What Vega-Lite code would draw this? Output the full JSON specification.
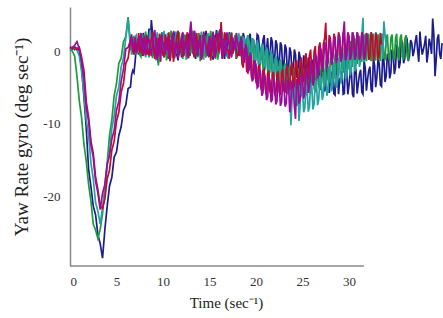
{
"$schema": "https://vega.github.io/schema/vega-lite/v6.json",
"width": 372, "height": 259,
"autosize": "none",
"padding": {"left": 70, "top": 7, "right": 1, "bottom": 52},
"background": "white",
"config": {"view": {"stroke": null}, "font": "Liberation Serif"},
"data": {"values": [
{"t":0,"b":0.4,"g":0.3,"c":0.5,"r":0.6,"p":0.7},
{"t":0.25,"b":0.6,"g":0.1,"c":0.3,"r":0.4,"p":0.5},
{"t":0.5,"b":0.3,"g":-0.6,"c":0.6,"r":0.7,"p":0.9},
{"t":0.75,"b":0.5,"g":-3.4,"c":0.2,"r":0.3,"p":1.4},
{"t":1,"b":0.2,"g":-6.8,"c":-0.6,"r":0.6,"p":0.4},
{"t":1.25,"b":-2.2,"g":-9.2,"c":-2.8,"r":-0.8,"p":-1.3},
{"t":1.5,"b":-6.3,"g":-12.8,"c":-5.7,"r":-2.6,"p":-3.7},
{"t":1.75,"b":-10.6,"g":-15.2,"c":-9.4,"r":-6.9,"p":-7.8},
{"t":2,"b":-16.3,"g":-18.4,"c":-11.6,"r":-9.1,"p":-9.6},
{"t":2.25,"b":-18.7,"g":-20.7,"c":-15.4,"r":-12.4,"p":-12.9},
{"t":2.5,"b":-21.4,"g":-23.9,"c":-17.6,"r":-14.1,"p":-14.6},
{"t":2.75,"b":-22.6,"g":-24.7,"c":-20.9,"r":-17.4,"p":-17.9},
{"t":3,"b":-25.4,"g":-25.9,"c":-22.1,"r":-19.1,"p":-19.6},
{"t":3.25,"b":-26.6,"g":-24.6,"c":-23.9,"r":-21.4,"p":-21.9},
{"t":3.5,"b":-28.6,"g":-22.4,"c":-21.6,"r":-21.7,"p":-19.6},
{"t":3.75,"b":-24.6,"g":-18.6,"c":-19.4,"r":-20.4,"p":-18.4},
{"t":4,"b":-21.4,"g":-15.4,"c":-15.6,"r":-17.6,"p":-15.6},
{"t":4.25,"b":-18.6,"g":-11.6,"c":-13.9,"r":-16.4,"p":-14.4},
{"t":4.5,"b":-17.4,"g":-9.4,"c":-10.6,"r":-13.6,"p":-12.1},
{"t":4.75,"b":-14.6,"g":-6.1,"c":-8.9,"r":-12.4,"p":-10.9},
{"t":5,"b":-13.9,"g":-4.4,"c":-6.1,"r":-9.6,"p":-8.1},
{"t":5.25,"b":-11.6,"g":-1.6,"c":-4.9,"r":-8.4,"p":-6.9},
{"t":5.5,"b":-10.4,"g":-0.9,"c":-2.1,"r":-5.6,"p":-4.1},
{"t":5.75,"b":-8.1,"g":1.4,"c":-0.9,"r":-4.4,"p":-2.4},
{"t":6,"b":-7.4,"g":2.1,"c":1.9,"r":-1.6,"p":0.4},
{"t":6.25,"b":-5.1,"g":4.8,"c":4.5,"r":-0.9,"p":0.6},
{"t":6.5,"b":-4.9,"g":0.2,"c":1.4,"r":1.4,"p":1.6},
{"t":6.75,"b":-2.6,"g":1.6,"c":0.1,"r":0.2,"p":0.1},
{"t":7,"b":-1.4,"g":-0.4,"c":2.1,"r":1.8,"p":2.0},
{"t":7.25,"b":0.9,"g":1.9,"c":-0.3,"r":0.1,"p":0.3},
{"t":7.5,"b":2.1,"g":-0.4,"c":1.6,"r":-0.2,"p":1.8},
{"t":7.75,"b":-0.6,"g":2.3,"c":-0.1,"r":1.9,"p":-0.3},
{"t":8,"b":1.7,"g":0.2,"c":2.4,"r":0.1,"p":2.2},
{"t":8.25,"b":-0.3,"g":1.8,"c":0.3,"r":2.3,"p":0.0},
{"t":8.5,"b":3.2,"g":-0.8,"c":1.9,"r":-0.4,"p":1.6},
{"t":8.75,"b":4.4,"g":1.6,"c":-0.5,"r":1.7,"p":-0.6},
{"t":9,"b":-0.4,"g":0.1,"c":2.2,"r":0.3,"p":2.4},
{"t":9.25,"b":1.9,"g":2.4,"c":-1.2,"r":2.0,"p":0.2},
{"t":9.5,"b":-1.5,"g":-1.9,"c":1.3,"r":-0.7,"p":1.9},
{"t":9.75,"b":1.4,"g":1.2,"c":-0.4,"r":1.5,"p":-1.4},
{"t":10,"b":-0.2,"g":-0.6,"c":2.0,"r":-0.3,"p":1.1},
{"t":10.25,"b":2.2,"g":2.1,"c":0.4,"r":2.4,"p":-0.4},
{"t":10.5,"b":-0.9,"g":0.0,"c":2.6,"r":0.2,"p":2.0},
{"t":10.75,"b":1.6,"g":2.2,"c":-0.2,"r":-1.3,"p":0.3},
{"t":11,"b":0.1,"g":-0.7,"c":1.5,"r":1.8,"p":2.3},
{"t":11.25,"b":2.4,"g":1.4,"c":-0.9,"r":-0.1,"p":-0.8},
{"t":11.5,"b":-0.5,"g":-0.3,"c":2.1,"r":2.2,"p":1.5},
{"t":11.75,"b":1.9,"g":2.7,"c":0.0,"r":-0.4,"p":-0.2},
{"t":12,"b":-0.8,"g":0.4,"c":1.8,"r":1.6,"p":2.1},
{"t":12.25,"b":1.3,"g":1.9,"c":-0.6,"r":0.0,"p":-0.5},
{"t":12.5,"b":-0.1,"g":-1.1,"c":2.3,"r":2.0,"p":1.7},
{"t":12.75,"b":2.5,"g":1.7,"c":-0.1,"r":-0.9,"p":0.1},
{"t":13,"b":0.3,"g":-0.2,"c":1.6,"r":3.9,"p":4.2},
{"t":13.25,"b":1.8,"g":2.0,"c":0.4,"r":-0.2,"p":-0.3},
{"t":13.5,"b":-1.0,"g":0.2,"c":2.5,"r":1.7,"p":1.8},
{"t":13.75,"b":1.6,"g":1.8,"c":-0.8,"r":0.1,"p":-0.6},
{"t":14,"b":-0.2,"g":-1.3,"c":1.4,"r":2.3,"p":2.0},
{"t":14.25,"b":2.3,"g":1.1,"c":0.1,"r":-0.5,"p":0.2},
{"t":14.5,"b":0.0,"g":-0.4,"c":2.2,"r":1.6,"p":1.6},
{"t":14.75,"b":1.7,"g":2.5,"c":-0.3,"r":-0.2,"p":-0.4},
{"t":15,"b":-0.7,"g":0.3,"c":1.9,"r":2.1,"p":2.2},
{"t":15.25,"b":2.0,"g":1.6,"c":-0.6,"r":0.3,"p":-0.1},
{"t":15.5,"b":0.2,"g":-0.8,"c":2.3,"r":-0.8,"p":1.9},
{"t":15.75,"b":3.0,"g":1.4,"c":0.2,"r":1.9,"p":0.3},
{"t":16,"b":-0.3,"g":-0.1,"c":1.7,"r":0.0,"p":2.4},
{"t":16.25,"b":1.5,"g":2.2,"c":3.8,"r":4.1,"p":0.4},
{"t":16.5,"b":0.1,"g":0.0,"c":-0.4,"r":-0.1,"p":1.8},
{"t":16.75,"b":2.2,"g":1.8,"c":1.6,"r":2.0,"p":-0.5},
{"t":17,"b":-0.6,"g":-0.9,"c":0.3,"r":0.2,"p":1.6},
{"t":17.25,"b":1.8,"g":1.5,"c":2.1,"r":1.8,"p":0.0},
{"t":17.5,"b":0.0,"g":-0.2,"c":-0.2,"r":-0.3,"p":2.0},
{"t":17.75,"b":2.1,"g":2.3,"c":1.9,"r":1.5,"p":0.3},
{"t":18,"b":-0.1,"g":0.2,"c":0.4,"r":-0.6,"p":1.4},
{"t":18.25,"b":2.0,"g":-0.5,"c":1.9,"r":1.2,"p":-0.6},
{"t":18.5,"b":-0.4,"g":1.8,"c":-0.4,"r":-1.7,"p":1.5},
{"t":18.75,"b":1.9,"g":-0.3,"c":1.7,"r":0.3,"p":-1.4},
{"t":19,"b":-0.3,"g":1.7,"c":-0.6,"r":-2.7,"p":0.5},
{"t":19.25,"b":2.1,"g":-0.8,"c":1.6,"r":-0.7,"p":-2.6},
{"t":19.5,"b":-0.2,"g":1.3,"c":-0.9,"r":-3.4,"p":-0.8},
{"t":19.75,"b":1.7,"g":-1.3,"c":1.4,"r":-1.4,"p":-3.7},
{"t":20,"b":0.0,"g":0.9,"c":-1.2,"r":-4.2,"p":-1.8},
{"t":20.25,"b":2.2,"g":-1.7,"c":0.9,"r":-2.1,"p":-4.8},
{"t":20.5,"b":-0.5,"g":0.4,"c":-1.6,"r":-4.8,"p":-3.0},
{"t":20.75,"b":1.6,"g":-2.3,"c":0.5,"r":-2.6,"p":-5.7},
{"t":21,"b":-0.6,"g":-0.1,"c":-2.2,"r":-5.2,"p":-3.6},
{"t":21.25,"b":1.9,"g":-2.7,"c":0.0,"r":-3.0,"p":-6.3},
{"t":21.5,"b":-0.8,"g":-0.6,"c":-2.8,"r":-5.5,"p":-4.0},
{"t":21.75,"b":1.4,"g":-3.3,"c":-0.7,"r":-3.2,"p":-6.6},
{"t":22,"b":-1.2,"g":-1.1,"c":-3.4,"r":-5.8,"p":-4.3},
{"t":22.25,"b":1.0,"g":-3.8,"c":-1.3,"r":-3.2,"p":-6.9},
{"t":22.5,"b":-1.6,"g":-1.6,"c":-4.1,"r":-5.6,"p":-4.5},
{"t":22.75,"b":0.8,"g":-4.3,"c":-2.0,"r":-2.9,"p":-7.0},
{"t":23,"b":-1.9,"g":-2.1,"c":-4.8,"r":-5.3,"p":-4.6},
{"t":23.25,"b":0.4,"g":-4.7,"c":-2.6,"r":-2.5,"p":-7.2},
{"t":23.5,"b":-2.3,"g":-2.4,"c":-5.5,"r":-4.9,"p":-4.5},
{"t":23.75,"b":-0.1,"g":-5.1,"c":-10.2,"r":-2.1,"p":-7.1},
{"t":24,"b":-2.8,"g":-2.8,"c":-3.7,"r":-4.5,"p":-4.4},
{"t":24.25,"b":-0.4,"g":-5.3,"c":-6.7,"r":-1.8,"p":-9.3},
{"t":24.5,"b":-3.2,"g":-2.9,"c":-4.5,"r":-4.1,"p":-4.2},
{"t":24.75,"b":-0.8,"g":-5.5,"c":-7.4,"r":-1.4,"p":-6.5},
{"t":25,"b":-3.6,"g":-3.0,"c":-5.2,"r":-3.8,"p":-3.5},
{"t":25.25,"b":-1.2,"g":-5.5,"c":-7.8,"r":-1.0,"p":-5.7},
{"t":25.5,"b":-3.9,"g":-2.9,"c":-5.2,"r":-3.3,"p":-2.7},
{"t":25.75,"b":-1.5,"g":-5.4,"c":-7.6,"r":-0.5,"p":-4.8},
{"t":26,"b":-4.3,"g":-2.7,"c":-4.9,"r":-2.8,"p":-1.7},
{"t":26.25,"b":-1.8,"g":-5.1,"c":-7.2,"r":0.0,"p":-3.8},
{"t":26.5,"b":-4.5,"g":-2.4,"c":-4.4,"r":-2.3,"p":-0.7},
{"t":26.75,"b":-2.1,"g":-4.8,"c":-6.6,"r":0.6,"p":-2.8},
{"t":27,"b":-4.8,"g":-2.0,"c":-3.7,"r":-1.8,"p":0.3},
{"t":27.25,"b":-2.3,"g":-4.3,"c":-5.9,"r":1.1,"p":-2.0},
{"t":27.5,"b":-5.0,"g":-1.5,"c":-3.0,"r":4.0,"p":0.8},
{"t":27.75,"b":-2.5,"g":-3.8,"c":-5.3,"r":-1.0,"p":-1.5},
{"t":28,"b":-4.2,"g":-1.0,"c":-2.4,"r":1.8,"p":1.3},
{"t":28.25,"b":-2.6,"g":-3.3,"c":-4.7,"r":-0.7,"p":-1.1},
{"t":28.5,"b":-6.0,"g":-0.5,"c":-1.9,"r":2.0,"p":1.5},
{"t":28.75,"b":-2.7,"g":-2.8,"c":-4.2,"r":-0.5,"p":-0.9},
{"t":29,"b":-3.9,"g":0.0,"c":-1.4,"r":2.1,"p":1.8},
{"t":29.25,"b":-2.7,"g":-2.4,"c":-3.6,"r":-0.5,"p":-0.7},
{"t":29.5,"b":-5.8,"g":0.4,"c":-0.7,"r":2.0,"p":4.2},
{"t":29.75,"b":-2.8,"g":-2.0,"c":-3.0,"r":-0.4,"p":-0.6},
{"t":30,"b":-4.6,"g":0.8,"c":-0.2,"r":2.1,"p":2.0},
{"t":30.25,"b":-2.7,"g":-1.6,"c":-2.5,"r":-0.5,"p":-0.4},
{"t":30.5,"b":-6.3,"g":1.2,"c":0.2,"r":2.1,"p":2.1},
{"t":30.75,"b":-2.6,"g":-1.2,"c":-1.9,"r":-0.4,"p":-0.5},
{"t":31,"b":-4.4,"g":1.6,"c":1.0,"r":2.0,"p":2.0},
{"t":31.25,"b":-2.5,"g":-0.9,"c":-1.3,"r":-0.5,"p":-0.4},
{"t":31.5,"b":-5.9,"g":1.8,"c":4.7,"r":2.1,"p":2.0},
{"t":31.75,"b":-2.3,"g":-0.7,"c":-0.6,"r":-0.4,"p":-0.3},
{"t":32,"b":-3.8,"g":1.9,"c":2.0,"r":2.0,"p":1.2},
{"t":32.25,"b":-2.1,"g":-0.6,"c":-0.5,"r":-0.6},
{"t":32.5,"b":-5.6,"g":1.9,"c":2.1,"r":2.2},
{"t":32.75,"b":-1.9,"g":-0.7,"c":-0.4,"r":-0.5},
{"t":33,"b":-3.5,"g":1.8,"c":2.0,"r":2.0},
{"t":33.25,"b":-1.6,"g":-0.6,"c":-0.6,"r":-0.4},
{"t":33.5,"b":-4.8,"g":1.9,"c":2.1,"r":1.0},
{"t":33.75,"b":-1.2,"g":-0.5,"c":4.2},
{"t":34,"b":-3.4,"g":1.8,"c":0.6},
{"t":34.25,"b":-0.8,"g":-0.7},
{"t":34.5,"b":-2.9,"g":1.9},
{"t":34.75,"b":-0.2,"g":-0.6},
{"t":35,"b":-2.2,"g":1.8},
{"t":35.25,"b":0.5,"g":-0.5},
{"t":35.5,"b":-1.5,"g":1.9},
{"t":35.75,"b":1.2,"g":-0.7},
{"t":36,"b":-0.9,"g":1.7},
{"t":36.25,"b":1.7,"g":-0.6},
{"t":36.5,"b":-0.6,"g":1.2},
{"t":36.75,"b":1.2},
{"t":37,"b":0.1},
{"t":37.25,"b":2.3},
{"t":37.5,"b":-1.4},
{"t":37.75,"b":0.9},
{"t":38,"b":0.3},
{"t":38.25,"b":2.2},
{"t":38.5,"b":-0.2},
{"t":38.75,"b":1.0},
{"t":39,"b":4.6},
{"t":39.25,"b":-3.4},
{"t":39.5,"b":1.8},
{"t":39.75,"b":-0.3},
{"t":40,"b":1.2},
{"t":6.625,"b":-3.2,"g":1.0,"c":-0.4,"r":2.0,"p":2.4},
{"t":6.875,"b":-2.9,"g":2.2,"c":1.3,"r":-0.4,"p":1.2},
{"t":7.125,"b":0.6,"g":0.4,"c":2.3,"r":0.9,"p":-0.2},
{"t":7.375,"b":-0.4,"g":0.9,"c":0.2,"r":2.6,"p":1.0},
{"t":7.625,"b":1.2,"g":-0.7,"c":2.5,"r":0.5,"p":2.6},
{"t":7.875,"b":2.6,"g":1.1,"c":1.0,"r":-0.6,"p":0.9},
{"t":8.125,"b":0.2,"g":2.8,"c":-0.8,"r":1.1,"p":-0.5},
{"t":8.375,"b":1.4,"g":0.5,"c":1.4,"r":-0.3,"p":1.9},
{"t":8.625,"b":0.9,"g":2.0,"c":3.0,"r":1.0,"p":0.4},
{"t":8.875,"b":2.5,"g":-0.9,"c":0.7,"r":2.8,"p":1.3},
{"t":9.125,"b":0.7,"g":1.5,"c":0.9,"r":-1.0,"p":3.0},
{"t":9.375,"b":-0.8,"g":0.6,"c":2.7,"r":1.2,"p":-1.1},
{"t":9.625,"b":0.5,"g":-0.4,"c":-0.9,"r":2.5,"p":0.8},
{"t":9.875,"b":2.7,"g":2.6,"c":1.1,"r":0.6,"p":2.4},
{"t":10.125,"b":1.0,"g":0.9,"c":2.9,"r":-0.8,"p":0.5},
{"t":10.375,"b":-0.5,"g":-1.2,"c":1.2,"r":1.3,"p":1.4},
{"t":10.625,"b":1.8,"g":1.3,"c":-0.8,"r":2.7,"p":-1.0},
{"t":10.875,"b":0.0,"g":2.9,"c":1.3,"r":0.4,"p":1.2},
{"t":11.125,"b":2.8,"g":-0.5,"c":0.6,"r":-1.4,"p":2.6},
{"t":11.375,"b":1.1,"g":0.8,"c":2.8,"r":1.0,"p":0.7},
{"t":11.625,"b":-1.2,"g":2.0,"c":-0.5,"r":2.9,"p":-0.9},
{"t":11.875,"b":0.8,"g":0.3,"c":1.0,"r":0.9,"p":1.0},
{"t":12.125,"b":2.6,"g":-1.0,"c":2.6,"r":-0.7,"p":2.7},
{"t":12.375,"b":0.4,"g":2.4,"c":0.8,"r":1.4,"p":0.6},
{"t":12.625,"b":1.5,"g":0.7,"c":-1.0,"r":2.7,"p":-0.7},
{"t":12.875,"b":-0.6,"g":1.0,"c":1.9,"r":0.6,"p":2.5},
{"t":13.125,"b":1.2,"g":2.8,"c":2.9,"r":1.8,"p":1.0},
{"t":13.375,"b":2.9,"g":-0.7,"c":-0.2,"r":-0.8,"p":2.9},
{"t":13.625,"b":0.3,"g":1.1,"c":1.5,"r":2.6,"p":0.2},
{"t":13.875,"b":-0.3,"g":2.6,"c":0.6,"r":0.8,"p":1.3},
{"t":14.125,"b":1.0,"g":0.0,"c":2.8,"r":-1.1,"p":-0.9},
{"t":14.375,"b":0.9,"g":2.1,"c":-1.1,"r":2.8,"p":2.6},
{"t":14.625,"b":2.9,"g":-0.8,"c":0.8,"r":0.6,"p":0.7},
{"t":14.875,"b":0.6,"g":1.2,"c":2.6,"r":1.4,"p":-0.6},
{"t":15.125,"b":1.1,"g":2.9,"c":0.2,"r":-1.2,"p":1.5},
{"t":15.375,"b":-1.1,"g":0.4,"c":1.0,"r":2.5,"p":2.8},
{"t":15.625,"b":1.5,"g":1.9,"c":-1.0,"r":0.8,"p":-0.8},
{"t":15.875,"b":0.7,"g":-1.1,"c":2.9,"r":2.6,"p":1.0},
{"t":16.125,"b":2.6,"g":1.0,"c":0.5,"r":1.0,"p":3.1},
{"t":16.375,"b":0.4,"g":2.7,"c":1.5,"r":-0.9,"p":-1.0},
{"t":16.625,"b":-1.0,"g":0.6,"c":2.5,"r":2.7,"p":0.9},
{"t":16.875,"b":1.3,"g":-0.5,"c":-0.7,"r":0.4,"p":2.7},
{"t":17.125,"b":2.7,"g":2.5,"c":1.2,"r":-1.0,"p":1.1},
{"t":17.375,"b":0.5,"g":0.7,"c":2.7,"r":2.6,"p":-0.8},
{"t":17.625,"b":1.2,"g":1.2,"c":0.1,"r":0.9,"p":1.0},
{"t":17.875,"b":-1.0,"g":-0.9,"c":1.4,"r":0.1,"p":2.6},
{"t":18.125,"b":1.1,"g":2.4,"c":2.6,"r":-0.4,"p":0.5},
{"t":18.375,"b":0.2,"g":2.2,"c":-0.5,"r":1.0,"p":2.0},
{"t":18.625,"b":2.6,"g":-0.2,"c":2.1,"r":-2.2,"p":-1.3},
{"t":18.875,"b":0.9,"g":0.7,"c":0.0,"r":0.5,"p":1.1},
{"t":19.125,"b":-0.9,"g":2.3,"c":2.2,"r":-2.9,"p":-2.8},
{"t":19.375,"b":2.5,"g":-1.2,"c":-0.3,"r":-0.6,"p":-0.1},
{"t":19.625,"b":0.4,"g":1.9,"c":1.8,"r":-4.1,"p":-3.9},
{"t":19.875,"b":-1.0,"g":-1.8,"c":-1.5,"r":-1.6,"p":-1.2},
{"t":20.125,"b":2.4,"g":0.9,"c":1.6,"r":-4.6,"p":-5.0},
{"t":20.375,"b":0.5,"g":-2.5,"c":-2.0,"r":-1.9,"p":-2.4},
{"t":20.625,"b":-1.1,"g":0.8,"c":1.1,"r":-5.4,"p":-6.1},
{"t":20.875,"b":2.3,"g":-2.9,"c":-2.7,"r":-2.4,"p":-3.0},
{"t":21.125,"b":0.1,"g":0.3,"c":0.6,"r":-5.9,"p":-6.7},
{"t":21.375,"b":-1.3,"g":-3.4,"c":-3.1,"r":-2.6,"p":-3.4},
{"t":21.625,"b":2.0,"g":-0.2,"c":0.2,"r":-6.0,"p":-7.0},
{"t":21.875,"b":-1.5,"g":-3.9,"c":-3.8,"r":-2.8,"p":-3.6},
{"t":22.125,"b":1.6,"g":-0.7,"c":-0.6,"r":-6.2,"p":-7.3},
{"t":22.375,"b":-2.0,"g":-4.4,"c":-4.5,"r":-2.7,"p":-3.9},
{"t":22.625,"b":1.3,"g":-1.1,"c":-1.2,"r":-6.0,"p":-7.5},
{"t":22.875,"b":-2.4,"g":-4.9,"c":-5.1,"r":-2.4,"p":-4.0},
{"t":23.125,"b":1.0,"g":-1.6,"c":-1.9,"r":-5.7,"p":-7.6},
{"t":23.375,"b":-2.8,"g":-5.4,"c":-5.9,"r":-1.9,"p":-3.9},
{"t":23.625,"b":0.6,"g":-1.9,"c":-2.6,"r":-5.3,"p":-8.4},
{"t":23.875,"b":-3.3,"g":-5.8,"c":-6.7,"r":-1.5,"p":-4.0},
{"t":24.125,"b":0.3,"g":-2.2,"c":-3.3,"r":-4.9,"p":-7.6},
{"t":24.375,"b":-3.6,"g":-6.0,"c":-7.5,"r":-1.2,"p":-3.8},
{"t":24.625,"b":0.0,"g":-2.3,"c":-9.6,"r":-4.6,"p":-7.2},
{"t":24.875,"b":-4.1,"g":-6.2,"c":-4.4,"r":-0.8,"p":-3.1},
{"t":25.125,"b":-0.5,"g":-2.4,"c":-8.4,"r":-4.2,"p":-6.5},
{"t":25.375,"b":-4.4,"g":-6.1,"c":-4.6,"r":-0.2,"p":-2.3},
{"t":25.625,"b":-0.8,"g":-2.2,"c":-8.3,"r":-3.9,"p":-5.7},
{"t":25.875,"b":-4.8,"g":-5.9,"c":-4.3,"r":0.3,"p":-1.3},
{"t":26.125,"b":-1.1,"g":-2.0,"c":-8.0,"r":-3.3,"p":-4.7},
{"t":26.375,"b":-5.1,"g":-5.6,"c":-3.9,"r":0.8,"p":-0.4},
{"t":26.625,"b":-1.4,"g":-1.7,"c":-7.4,"r":-2.8,"p":-3.7},
{"t":26.875,"b":-5.3,"g":-5.2,"c":-3.3,"r":1.3,"p":0.6},
{"t":27.125,"b":-1.6,"g":-1.3,"c":-6.7,"r":-2.3,"p":-2.8},
{"t":27.375,"b":-5.5,"g":-4.8,"c":-2.6,"r":1.8,"p":1.3},
{"t":27.625,"b":-1.8,"g":-0.8,"c":-6.1,"r":-1.8,"p":-2.3},
{"t":27.875,"b":-5.7,"g":-4.3,"c":-2.0,"r":2.3,"p":1.8},
{"t":28.125,"b":-3.0,"g":-0.3,"c":-5.5,"r":-1.3,"p":-1.8},
{"t":28.375,"b":-5.8,"g":-3.8,"c":-1.4,"r":2.5,"p":2.1},
{"t":28.625,"b":-1.5,"g":0.2,"c":-5.0,"r":-1.2,"p":-1.6},
{"t":28.875,"b":-5.9,"g":-3.3,"c":-0.9,"r":2.7,"p":2.3},
{"t":29.125,"b":-3.4,"g":0.7,"c":-4.4,"r":-1.1,"p":-1.4},
{"t":29.375,"b":-5.9,"g":-2.9,"c":-0.3,"r":2.7,"p":2.5},
{"t":29.625,"b":-1.2,"g":1.1,"c":-3.8,"r":-1.1,"p":-1.2},
{"t":29.875,"b":-5.9,"g":-2.5,"c":0.3,"r":2.7,"p":2.6},
{"t":30.125,"b":-2.9,"g":1.5,"c":-3.3,"r":-1.1,"p":-1.1},
{"t":30.375,"b":-5.9,"g":-2.1,"c":0.8,"r":2.7,"p":2.7},
{"t":30.625,"b":-1.6,"g":1.9,"c":-2.7,"r":-1.1,"p":-1.1},
{"t":30.875,"b":-5.8,"g":-1.7,"c":1.4,"r":2.7,"p":2.7},
{"t":31.125,"b":-3.1,"g":2.2,"c":-2.1,"r":-1.1,"p":-1.0},
{"t":31.375,"b":-5.6,"g":-1.4,"c":2.0,"r":2.7,"p":2.6},
{"t":31.625,"b":-1.2,"g":2.4,"c":-1.4,"r":-1.1,"p":-1.0},
{"t":31.875,"b":-5.4,"g":-1.3,"c":2.6,"r":2.6,"p":2.5},
{"t":32.125,"b":-2.6,"g":2.5,"c":-1.1,"r":-1.1},
{"t":32.375,"b":-5.2,"g":-1.3,"c":2.7,"r":2.7},
{"t":32.625,"b":-0.8,"g":2.5,"c":-1.1,"r":-1.2},
{"t":32.875,"b":-4.9,"g":-1.2,"c":2.7,"r":2.6},
{"t":33.125,"b":-1.0,"g":2.4,"c":-1.1,"r":-1.1},
{"t":33.375,"b":-4.6,"g":-1.3,"c":2.6,"r":2.6},
{"t":33.625,"b":-0.6,"g":2.5,"c":-1.0},
{"t":33.875,"b":-4.2,"g":-1.2,"c":2.4},
{"t":34.125,"b":-0.3,"g":2.4},
{"t":34.375,"b":-3.7,"g":-1.3},
{"t":34.625,"b":0.3,"g":2.4},
{"t":34.875,"b":-3.1,"g":-1.2},
{"t":35.125,"b":1.0,"g":2.5},
{"t":35.375,"b":-2.3,"g":-1.2},
{"t":35.625,"b":1.6,"g":2.4},
{"t":35.875,"b":-1.6,"g":-1.1},
{"t":36.125,"b":2.2,"g":2.3},
{"t":36.375,"b":-1.3,"g":-1.2},
{"t":36.625,"b":1.6},
{"t":36.875,"b":-0.6},
{"t":37.125,"b":1.4},
{"t":37.375,"b":0.2},
{"t":37.625,"b":2.8},
{"t":37.875,"b":-0.4},
{"t":38.125,"b":1.1},
{"t":38.375,"b":-1.5},
{"t":38.625,"b":1.8},
{"t":38.875,"b":-0.3},
{"t":39.125,"b":2.3},
{"t":39.375,"b":-1.1},
{"t":39.625,"b":2.4},
{"t":39.875,"b":-1.0}
]},
"layer": [
 {
  "transform": [{"fold": ["b","g","c","r","p"], "as": ["s","v"]}, {"filter": "isValid(datum.v)"}],
  "mark": {"type": "line", "strokeWidth": 1.7, "clip": false},
  "encoding": {
   "x": {"field": "t", "type": "quantitative", "scale": {"domain": [0, 40], "nice": false},
         "axis": {"title": "Time (sec⁻¹)", "values": [0,5,10,15,20,25,30], "domain": false, "ticks": false, "grid": false,
                  "labelFont": "Liberation Serif", "labelFontSize": 13, "labelColor": "#333", "labelPadding": 9,
                  "titleFont": "Liberation Serif", "titleFontSize": 15, "titleFontWeight": "normal", "titleColor": "#222",
                  "titlePadding": 7, "titleX": 156}},
   "y": {"field": "v", "type": "quantitative", "scale": {"domain": [-29.7, 6.2], "nice": false, "zero": false},
         "axis": {"title": "Yaw Rate gyro (deg sec⁻¹)", "values": [-20,-10,0], "ticks": false, "grid": false,
                  "domainColor": "#888", "domainWidth": 1.5,
                  "labelExpr": "replace(datum.label, '−', '-')",
                  "labelFont": "Liberation Serif", "labelFontSize": 13, "labelColor": "#333", "labelPadding": 10,
                  "titleFont": "Liberation Serif", "titleFontSize": 19, "titleFontWeight": "normal", "titleColor": "#222",
                  "titlePadding": 11}},
   "color": {"field": "s", "type": "nominal", "legend": null,
             "scale": {"domain": ["b","g","c","r","p"], "range": ["#1c1c8e", "#1f9a3a", "#25a3a0", "#c40a2a", "#9c0c9c"]}}
  }
 },
 {
  "data": {"values": [{}]},
  "mark": {"type": "rule", "color": "#888", "strokeWidth": 1.5},
  "encoding": {"x": {"datum": 0}, "x2": {"datum": 31.6}, "y": {"datum": -29.7}}
 }
]
}
